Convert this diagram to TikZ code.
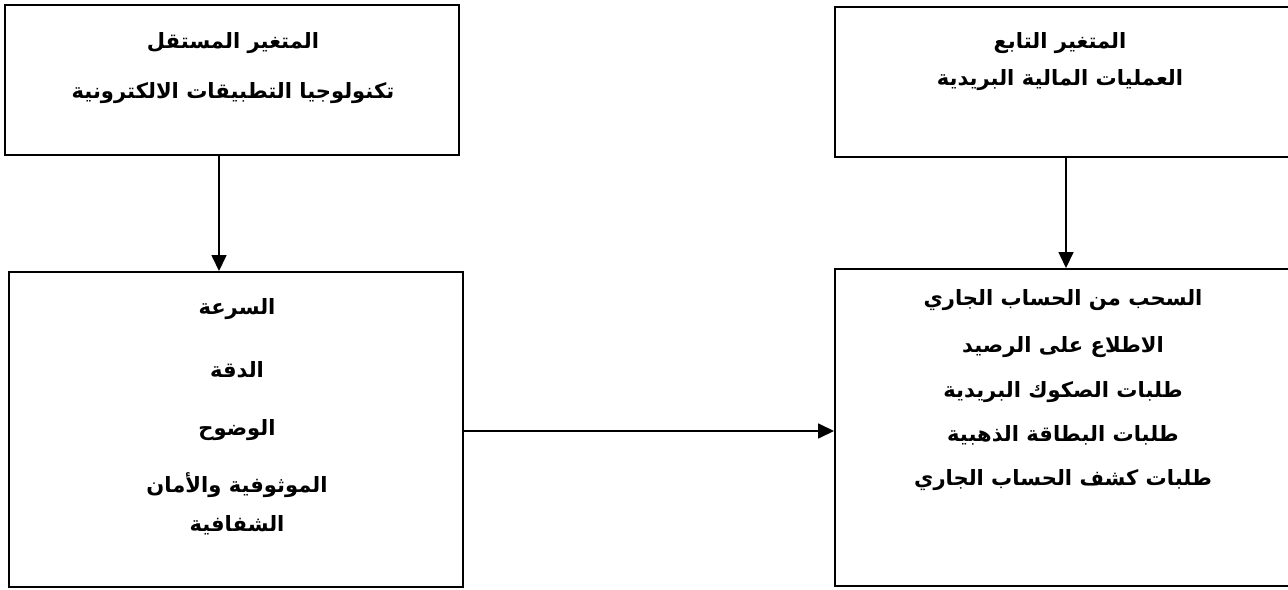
\documentclass[tikz,border=0pt]{standalone}
\usepackage{fontspec}
\newfontfamily\arabicfont[Script=Arabic]{DejaVu Sans}
\TeXXeTstate=1
\usetikzlibrary{arrows.meta}
\usetikzlibrary{positioning}

\tikzset{
  box/.style={draw, line width=1.1pt, rectangle, inner sep=0pt},
  txt/.style={font=\arabicfont\bfseries\fontsize{12}{14}\selectfont, inner sep=0pt},
  arr/.style={line width=0.9pt, -{Triangle[length=0.32cm,width=0.3cm]}}
}

\begin{document}
\begin{tikzpicture}
\useasboundingbox (0,0) rectangle (25.76,11.78);
\node[box,minimum width=9.08cm,minimum height=3.0cm] (TL) at (4.64,10.18) {};
\node[box,minimum width=9.08cm,minimum height=6.30cm] (BL) at (4.72,3.19) {};
\node[box,minimum width=9.3cm,minimum height=3.0cm] (TR) at (21.35,10.14) {};
\node[box,minimum width=9.3cm,minimum height=6.34cm] (BR) at (21.35,3.23) {};

\node[txt] (TL1) at (4.66,10.92) {\beginR المتغير المستقل\endR};
\node[txt] (TL2) at (4.66,9.92) {\beginR تكنولوجيا التطبيقات الالكترونية\endR};

\node[txt] (TR1) at (21.2,10.92) {\beginR المتغير التابع\endR};
\node[txt] (TR2) at (21.2,10.18) {\beginR العمليات المالية البريدية\endR};

\node[txt] (BL1) at (4.74,5.6) {\beginR السرعة\endR};
\node[txt] (BL2) at (4.74,4.38) {\beginR الدقة\endR};
\node[txt] (BL3) at (4.74,3.18) {\beginR الوضوح\endR};
\node[txt] (BL4) at (4.74,2.08) {\beginR الموثوفية والأمان\endR};
\node[txt] (BL5) at (4.74,1.28) {\beginR الشفافية\endR};

\node[txt] (BR1) at (21.26,5.78) {\beginR السحب من الحساب الجاري\endR};
\node[txt] (BR2) at (21.26,4.84) {\beginR الاطلاع على الرصيد\endR};
\node[txt] (BR3) at (21.26,3.94) {\beginR طلبات الصكوك البريدية\endR};
\node[txt] (BR4) at (21.26,3.08) {\beginR طلبات البطاقة الذهبية\endR};
\node[txt] (BR5) at (21.26,2.18) {\beginR طلبات كشف الحساب الجاري\endR};

\coordinate (a1) at (4.38,0);
\coordinate (a2) at (21.32,0);
\coordinate (a3) at (0,3.16);
\draw[arr] (TL.south -| a1) -- (BL.north -| a1);
\draw[arr] (TR.south -| a2) -- (BR.north -| a2);
\draw[arr] (BL.east |- a3) -- (BR.west |- a3);

\end{tikzpicture}
\end{document}
